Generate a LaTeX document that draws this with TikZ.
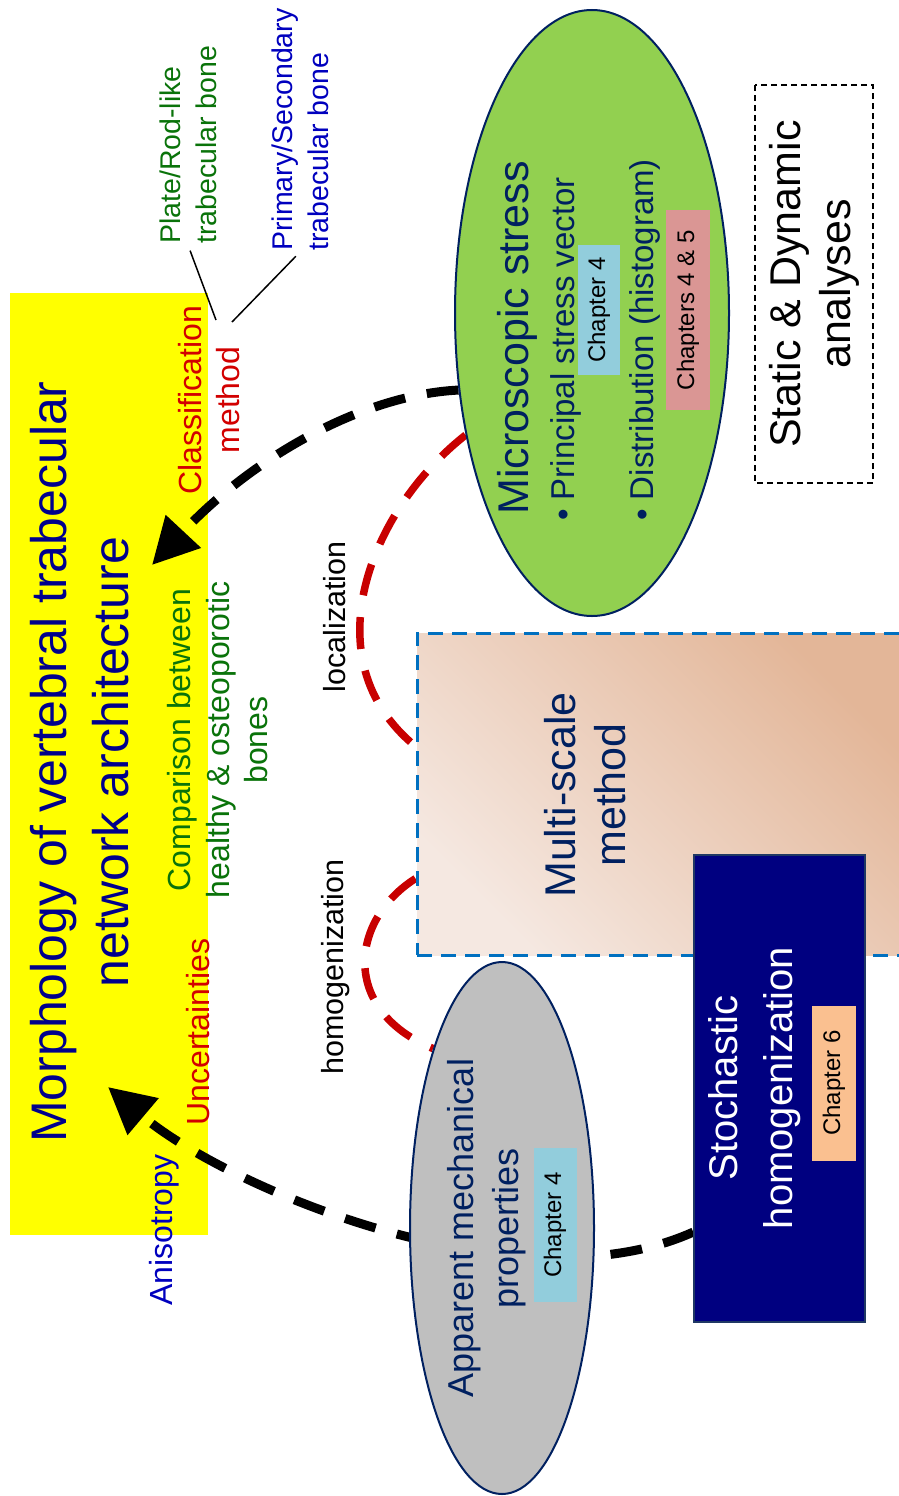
\documentclass[tikz,border=0pt]{standalone}
\usepackage{fontspec}
\setmainfont{Liberation Sans}
\usetikzlibrary{shapes.geometric,arrows.meta}

\definecolor{titleblue}{RGB}{0,0,140}
\definecolor{darknavy}{RGB}{0,32,96}
\definecolor{boxnavy}{RGB}{0,0,128}
\definecolor{stochedge}{RGB}{31,56,100}
\definecolor{textred}{RGB}{210,0,0}
\definecolor{dashred}{RGB}{200,0,0}
\definecolor{textgreen}{RGB}{10,115,10}
\definecolor{labelblue}{RGB}{0,0,190}
\definecolor{microgreen}{RGB}{146,208,80}
\definecolor{greyfill}{RGB}{191,191,191}
\definecolor{chapblue}{RGB}{146,205,220}
\definecolor{chappink}{RGB}{218,150,148}
\definecolor{chaporange}{RGB}{250,192,144}
\definecolor{msblue}{RGB}{0,112,192}
\definecolor{mslight}{RGB}{245,232,225}
\definecolor{msdark}{RGB}{227,182,152}
\definecolor{morphyellow}{RGB}{255,255,0}

\pgfdeclarelayer{back}
\pgfdeclarelayer{links}
\pgfsetlayers{back,links,main}

\begin{document}
\begin{tikzpicture}[x=1pt,y=-1pt,
  lbl/.style={rotate=90,inner sep=1pt,align=center},
  chapbox/.style={rotate=90,inner sep=0pt,font=\fontsize{24}{28}\selectfont},
  blackdash/.style={line width=9pt,dash pattern=on 32pt off 22pt},
  reddash/.style={dashred,line width=7.5pt,dash pattern=on 32pt off 22pt},
  linkline/.style={line width=1.5pt,shorten <=6pt}]
  \useasboundingbox (0,0) rectangle (899,1496);
  \clip (0,0) rectangle (899,1496);

  \begin{pgfonlayer}{back}
    \node[fill=morphyellow,minimum width=198pt,minimum height=942pt,inner sep=0pt] (morphbox) at (109,764) {};
  \end{pgfonlayer}

  \node[lbl,text=titleblue,font=\fontsize{50}{62}\selectfont] (title) at (80,762) {Morphology of vertebral trabecular\\network architecture};
  \node[lbl,text=textred,font=\fontsize{32}{38}\selectfont] (classm) at (209,400) {Classification\\method};
  \node[lbl,text=textgreen,font=\fontsize{32}{38.5}\selectfont] (compare) at (218,740) {Comparison between\\healthy \& osteoporotic\\bones};
  \node[lbl,text=textred,font=\fontsize{32}{38}\selectfont] (uncert) at (198,1032) {Uncertainties};
  \node[lbl,text=labelblue,font=\fontsize{32}{38}\selectfont] (aniso) at (164,1230) {Anisotropy};

  \node[lbl,align=left,anchor=west,text=textgreen,font=\fontsize{28.5}{36}\selectfont] (plate) at (188,245) {Plate/Rod-like\\trabecular bone};
  \node[lbl,align=left,anchor=west,text=labelblue,font=\fontsize{28.5}{36}\selectfont] (primary) at (300,252) {Primary/Secondary\\trabecular bone};
  \coordinate (plateEnd) at (216,320);
  \coordinate (primEnd) at (232,322);
  \draw[linkline] (plate.west) -- (plateEnd);
  \draw[linkline] (primary.west) -- (primEnd);

  \node[lbl,font=\fontsize{30.5}{36}\selectfont] (local) at (335,617) {localization};
  \node[lbl,font=\fontsize{30.5}{36}\selectfont] (homog) at (336,967) {homogenization};

  % microscopic stress
  \node[ellipse,draw=darknavy,line width=2pt,fill=microgreen,minimum width=274pt,minimum height=606pt,inner sep=0pt] (micro) at (592,313) {};
  \node[lbl,anchor=west,text=darknavy,font=\fontsize{43}{50}\selectfont] (microtitle) at (517,516) {Microscopic stress};
  \node[lbl,anchor=west,text=darknavy,font=\fontsize{33}{40}\selectfont] (stressvec) at (566,522) {\textbullet\ Principal stress vector};
  \node[chapbox,fill=chapblue,minimum width=130pt,minimum height=42pt] (chapA) at (599,310) {Chapter 4};
  \node[lbl,anchor=west,text=darknavy,font=\fontsize{33}{40}\selectfont] (distrib) at (645,522) {\textbullet\ Distribution (histogram)};
  \node[chapbox,fill=chappink,minimum width=200pt,minimum height=44pt] (chapB) at (688,310) {Chapters 4 \& 5};

  % multi-scale
  \node[draw=msblue,line width=3pt,dash pattern=on 15pt off 9pt,left color=mslight,right color=msdark,shading angle=135,minimum width=488pt,minimum height=322pt,inner sep=0pt] (multi) at (661,794) {};
  \node[lbl,text=darknavy,font=\fontsize{43}{50}\selectfont] (multitext) at (585,795) {Multi-scale\\method};

  \node[draw=stochedge,line width=1.5pt,fill=boxnavy,minimum width=171pt,minimum height=467pt,inner sep=0pt] (stoch) at (779.5,1088.5) {};
  \node[lbl,text=white,font=\fontsize{40}{55}\selectfont] (stochtext) at (755,1088) {Stochastic\\homogenization};
  \node[chapbox,fill=chaporange,minimum width=155pt,minimum height=44pt] (chapC) at (834,1083) {Chapter 6};

  % apparent properties
  \node[ellipse,draw=darknavy,line width=2pt,fill=greyfill,minimum width=184pt,minimum height=532pt,inner sep=0pt] (appar) at (502,1228) {};
  \node[lbl,text=darknavy,font=\fontsize{36}{45}\selectfont] (appartext) at (487,1228) {Apparent mechanical\\properties};
  \node[chapbox,fill=chapblue,minimum width=154pt,minimum height=43pt] (chapD) at (555,1225) {Chapter 4};

  \node[draw,line width=2pt,dash pattern=on 6pt off 4pt,rotate=90,minimum width=398pt,minimum height=118pt,align=center,font=\fontsize{43}{50}\selectfont] (static) at (814,284) {Static \& Dynamic\\analyses};

  \coordinate (classTip) at (152,565);
  \coordinate (anisoTip) at (108,1087);

  \begin{pgfonlayer}{links}
    \draw[blackdash,-{Triangle[length=46pt,width=46pt]}] (micro.210) .. controls (360,395) and (250,460) .. (classTip);
    \draw[blackdash,-{Triangle[length=46pt,width=46pt]}] (stoch.239.7) .. controls (520,1310) and (230,1190) .. (anisoTip);
    \draw[reddash] (micro.224) .. controls (370,510) and (310,660) .. (multi.169.3);
    \draw[reddash] (multi.199) .. controls (350,920) and (340,1010) .. (appar.111);
  \end{pgfonlayer}
\end{tikzpicture}
\end{document}
